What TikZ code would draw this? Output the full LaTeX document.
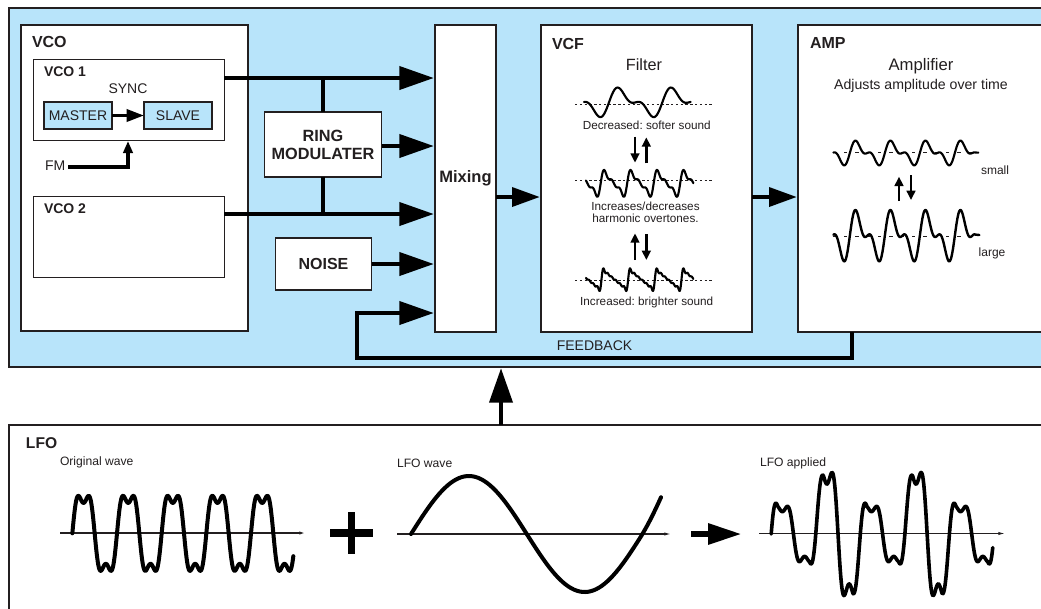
\documentclass[tikz,border=0pt]{standalone}
\usepackage{fontspec}
\setmainfont{Liberation Sans}
\usetikzlibrary{arrows.meta,calc}
\definecolor{panelblue}{HTML}{B8E4FA}
\definecolor{ink}{HTML}{231F20}
\newcommand{\fpx}[1]{\fontsize{#1}{#1}\selectfont}
\frenchspacing
\tikzset{
  box/.style={draw=ink,fill=white,line width=1.15pt,inner sep=0pt,outer sep=0pt,text=ink,align=center},
  bluebox/.style={box,fill=panelblue,line width=.8pt},
  inner box/.style={box,line width=.75pt},
  lbl/.style={inner sep=0pt,outer sep=0pt,text=ink,align=center},
  head/.style={lbl,anchor=west,font=\bfseries\fpx{12}},
  mainarrow/.style={line width=3.7pt,-{Triangle[length=26pt,width=17pt]}},
  midarrow/.style={line width=3.4pt,-{Triangle[length=21pt,width=14pt]}},
  smallarrow/.style={line width=2.1pt,-{Triangle[length=7pt,width=6.5pt]}},
  wavethin/.style={line width=1.6pt,black,line join=round,line cap=round},
  wavethick/.style={line width=3pt,black,line join=round,line cap=round},
  baseline/.style={line width=.6pt,ink,dash pattern=on 1.8pt off 1.8pt},
  axisline/.style={line width=.8pt,ink,-{Latex[length=5pt,width=2.4pt]}},
}
\begin{document}
\begin{tikzpicture}[x=.75pt,y=-.75pt]
\useasboundingbox (0,0) rectangle (1041,608);
\fill[white] (0,0) rectangle (1041,608);
% panels
\node[box,fill=panelblue,line width=1.6pt,minimum width=1066*.75pt,minimum height=359*.75pt] (synth) at (542,187.5) {};
\node[box,line width=1.6pt,minimum width=1066*.75pt,minimum height=210*.75pt] (lfo) at (542,530) {};
\node[box,minimum width=227*.75pt,minimum height=306*.75pt] (vco) at (134.5,178) {};
\node[inner box,minimum width=191*.75pt,minimum height=81*.75pt] (vcoa) at (128.5,99.5) {};
\node[inner box,minimum width=191*.75pt,minimum height=81*.75pt] (vcob) at (128.5,236.5) {};
\node[bluebox,minimum width=68*.75pt,minimum height=27*.75pt,font=\fpx{10.5}] (master) at (78,115.5) {MASTER};
\node[bluebox,minimum width=68*.75pt,minimum height=27*.75pt,font=\fpx{10.5}] (slave) at (178,115.5) {SLAVE};
\node[box,minimum width=117*.75pt,minimum height=65*.75pt,font=\bfseries\fpx{12.2}] (ring) at (323,144.5) {\raisebox{-1pt}{RING}\\[2.2pt]MODULATER};
\node[box,minimum width=96*.75pt,minimum height=52*.75pt,font=\bfseries\fpx{12}] (noise) at (323.5,264) {NOISE};
\node[box,minimum width=61*.75pt,minimum height=307*.75pt,font=\bfseries\fpx{12.4}] (mix) at (465.5,178.5) {Mixing};
\node[box,minimum width=211*.75pt,minimum height=307*.75pt] (vcf) at (646.5,178.5) {};
\node[box,minimum width=270*.75pt,minimum height=307*.75pt] (amp) at (933,178.5) {};
% connector ends
\coordinate (ma) at ($(mix.west |- 0,78)+(-1,0)$);
\coordinate (mb) at ($(mix.west |- 0,146)+(-1,0)$);
\coordinate (mc) at ($(mix.west |- 0,214)+(-1,0)$);
\coordinate (md) at ($(mix.west |- 0,264)+(-1,0)$);
\coordinate (me) at ($(mix.west |- 0,313)+(-1,0)$);
\coordinate (fbstart) at (852,332);
\coordinate (fbdown) at (852,358);
\coordinate (fbleft) at (357,358);
\coordinate (fbup) at (357,313);
\coordinate (ja) at (323,78);
\coordinate (jb) at (323,214);
\coordinate (fmend) at (68,167);
\coordinate (fmcorner) at (128,167);
\coordinate (fmtip) at (128,141);
\coordinate (lfotip) at (501,368);
\coordinate (lfotail) at (501,425);
% connectors
\draw[mainarrow,draw=black] (vcoa.east |- ma) -- (ma);
\draw[mainarrow,draw=black] (vcob.east |- mc) -- (mc);
\draw[mainarrow,draw=black] (ring.east |- mb) -- (mb);
\draw[mainarrow,draw=black] (noise.east |- md) -- (md);
\draw[line width=3.7pt,black] (ja) -- (ring.north);
\draw[line width=3.7pt,black] (ring.south) -- (jb);
\draw[mainarrow,draw=black,line join=miter] (fbstart) -- (fbdown) -- (fbleft) -- (fbup) -- (me);
\draw[midarrow,draw=black] (mix.east |- 0,197) -- ($(vcf.west |- 0,197)+(-1,0)$);
\draw[midarrow,draw=black] (vcf.east |- 0,197) -- ($(amp.west |- 0,197)+(-1,0)$);
\draw[mainarrow,draw=black] (lfotail) -- (lfotip);
\draw[line width=2.6pt,black,-{Triangle[length=13pt,width=9pt]}] (master.east) -- (slave.west);
\draw[line width=2.7pt,black,line join=miter,-{Triangle[length=9pt,width=7pt]}] (fmend) -- (fmcorner) -- (fmtip);
% labels
\node[head] (tvco) at (32,42) {VCO};
\node[head,font=\bfseries\fpx{10.5}] (tvcoa) at (44,72) {VCO 1};
\node[head,font=\bfseries\fpx{10.5}] (tvcob) at (44,209) {VCO 2};
\node[lbl,font=\fpx{10.5}] (tsync) at (128,89) {SYNC};
\node[lbl,anchor=west,font=\fpx{10.5}] (tfm) at (45,166) {FM};
\node[head] (tvcf) at (552,44) {VCF};
\node[lbl,font=\fpx{12.2}] (tfilter) at (644,65) {Filter};
\node[lbl,font=\fpx{8.8}] (tdec) at (646.7,125) {Decreased: softer sound};
\node[lbl,font=\fpx{8.8}] (tinc) at (645.5,212) {Increases/decreases\\[.3pt]harmonic overtones.};
\node[lbl,font=\fpx{8.8}] (tbri) at (646.7,302) {Increased: brighter sound};
\node[head] (tamp) at (810,43) {AMP};
\node[lbl,font=\fpx{12.5}] (tampl) at (921,66) {Amplifier};
\node[lbl,font=\fpx{10.6}] (tadj) at (921,86) {Adjusts amplitude over time};
\node[lbl,font=\fpx{9}] (tsmall) at (995,170) {small};
\node[lbl,font=\fpx{9}] (tlarge) at (992,253) {large};
\node[lbl,font=\fpx{10.5}] (tfb) at (594.5,346) {FEEDBACK};
\node[head,font=\bfseries\fpx{11.7}] (tlfo) at (26,443) {LFO};
\node[lbl,anchor=west,font=\fpx{9.1}] (torig) at (60,462.5) {Original wave};
\node[lbl,anchor=west,font=\fpx{9.1}] (twave) at (397,463) {LFO wave};
\node[lbl,anchor=west,font=\fpx{9.1}] (tappl) at (760,463) {LFO applied};
% VCF waves and arrows
\begin{scope}[shift={(530,20)},x=.25pt,y=-.25pt]
\draw[baseline] (135,252) -- (545,252);
\draw[baseline] (135,480) -- (545,480);
\draw[baseline] (135,782) -- (545,782);
\draw[wavethin] plot[domain=162:482,samples=140] (\x,{247-32*(sin((\x-237)/160*360)+.6*sin(2*(\x-237)/160*360))});
\draw[wavethin] plot[domain=168:490,samples=200] (\x,{490-28*(sin((\x-212)/79.5*360)+.5*sin(2*(\x-212)/79.5*360)+.33*sin(3*(\x-212)/79.5*360))});
\draw[wavethin] plot[domain=168:490,samples=260] (\x,{779-21*(sin((\x-214.4)/80*360)+.5*sin(2*(\x-214.4)/80*360)+.33*sin(3*(\x-214.4)/80*360)+.25*sin(4*(\x-214.4)/80*360)+.2*sin(5*(\x-214.4)/80*360)+.167*sin(6*(\x-214.4)/80*360))});
\draw[smallarrow] (315,350) -- (315,428);
\draw[smallarrow] (349,430) -- (349,352);
\draw[smallarrow] (315,720) -- (315,640);
\draw[smallarrow] (349,642) -- (349,720);
\end{scope}
% AMP waves and arrows
\begin{scope}[shift={(790,20)},x=.25pt,y=-.25pt]
\draw[baseline,dash pattern=on 2.5pt off 6pt] (128,398) -- (565,398);
\draw[baseline,dash pattern=on 2.5pt off 6pt] (128,648) -- (565,648);
\draw[wavethin] plot[domain=130:556,samples=160] (\x,{399-26*(sin((\x-179.5)/105*360)+.65*sin(2*(\x-179.5)/105*360))}) -- (565,398);
\draw[wavethin,line width=1.8pt] plot[domain=130:556,samples=160] (\x,{647-54*(sin((\x-179.5)/105*360)+.65*sin(2*(\x-179.5)/105*360))}) -- (568,645);
\draw[smallarrow] (327,543) -- (327,470);
\draw[smallarrow] (363,465) -- (363,540);
\end{scope}
% LFO original wave
\coordinate (axa) at (60,533);
\coordinate (axb) at (306,533);
\draw[axisline,line width=1pt] (axa) -- (axb);
\begin{scope}[shift={(0,420)},x=.25pt,y=-.25pt]
\draw[wavethick] plot[domain=217:880,samples=340] (\x,{340-125*(sin((\x-217)/134*360)+.27*sin(3*(\x-217)/134*360))});
\end{scope}
% plus
\coordinate (plusc) at (351.5,533);
\draw[line width=6pt,black] (330,533) -- (373,533);
\draw[line width=5.6pt,black] (351.5,512) -- (351.5,554);
% LFO sine
\coordinate (sxa) at (397,534);
\coordinate (sxb) at (671,534);
\draw[axisline] (sxa) -- (sxb);
\draw[wavethick] plot[domain=411:661,samples=90] (\x,{534-58*sin((\x-411)/231.5*360)-(\x>640)*(\x-640)*(\x-640)*.02});
% result arrow
\coordinate (rarrA) at (691,534);
\coordinate (rarrB) at (741.5,534);
\draw[line width=4.4pt,black,-{Triangle[length=25pt,width=15pt]}] (rarrA) -- (rarrB);
% LFO applied
\coordinate (axc) at (759,533.5);
\coordinate (axd) at (1005,533.5);
\draw[axisline] (axc) -- (axd);
\begin{scope}[shift={(400,420)},x=.3066pt,y=-.25pt]
\draw[wavethick,line width=2.7pt] plot[domain=908:1450,samples=380] (\x,{342-max(92,min(205,145+120*cos((\x-1072)/218*360)))*(sin((\x-908)/109*360)+.27*sin(3*(\x-908)/109*360))});
\end{scope}
\end{tikzpicture}
\end{document}
